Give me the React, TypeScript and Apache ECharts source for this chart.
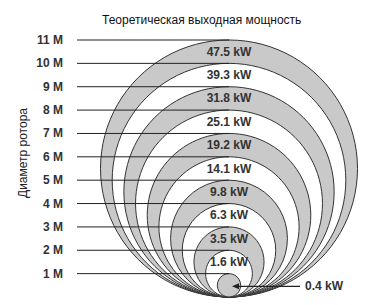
import React, { useEffect, useRef } from 'react';
import * as echarts from 'echarts';

const diameters = [11, 10, 9, 8, 7, 6, 5, 4, 3, 2, 1];
const powers = [47.5, 39.3, 31.8, 25.1, 19.2, 14.1, 9.8, 6.3, 3.5, 1.6, 0.4];
const titleText = 'Теоретическая выходная мощность';
const yAxisTitle = 'Диаметр ротора';

const FONT = '"Liberation Sans", Arial, sans-serif';
const GRAY = '#c9c9c9';
const X_MIN = -152;

export default function App() {
  const ref = useRef<HTMLDivElement>(null);
  useEffect(() => {
    document.body.style.margin = '0';
    const chart = echarts.init(ref.current!, null, { renderer: 'svg' });
    const data = diameters.map((d, i) => [d, powers[i]]);
    chart.setOption({
      animation: false,
      backgroundColor: '#fff',
      title: {
        text: titleText,
        left: 97,
        top: 9,
        textStyle: { fontFamily: FONT, fontSize: 12, fontWeight: 'normal', color: '#111' },
      },
      graphic: [
        {
          type: 'text',
          x: 23,
          y: 153,
          rotation: Math.PI / 2,
          style: {
            text: yAxisTitle,
            align: 'center',
            verticalAlign: 'middle',
            font: `12px ${FONT}`,
            fill: '#222',
          },
        },
      ],
      grid: { left: 77, right: 0, top: 40, bottom: 8 },
      xAxis: {
        type: 'value',
        min: X_MIN,
        max: 150,
        show: false,
      },
      yAxis: {
        type: 'value',
        min: 0,
        max: 11,
        interval: 1,
        axisLine: { show: false },
        axisTick: { show: false },
        splitLine: { show: false },
        axisLabel: {
          margin: 14,
          fontFamily: FONT,
          fontSize: 12,
          fontWeight: 'bold',
          color: '#333',
          formatter: (v: number) => (v === 0 ? '' : `${v} M`),
        },
      },
      series: [
        {
          type: 'custom',
          data,
          encode: { x: 1, y: 0 },
          renderItem: (params: any, api: any) => {
            const d = api.value(0);
            const c = api.coord([0, d / 2]);
            const r = api.size([0, d / 2])[1];
            return {
              type: 'circle',
              shape: { cx: c[0], cy: c[1], r },
              style: { fill: d % 2 === 1 ? GRAY : '#ffffff', stroke: '#333', lineWidth: 1 },
            };
          },
          z: 1,
        },
        {
          type: 'custom',
          data,
          encode: { x: 1, y: 0 },
          renderItem: (params: any, api: any) => {
            const d = api.value(0);
            const a = api.coord([X_MIN, d]);
            const b = api.coord([0, d]);
            return {
              type: 'line',
              shape: { x1: a[0], y1: a[1], x2: b[0], y2: b[1] },
              style: { stroke: '#222', lineWidth: 1 },
            };
          },
          z: 2,
        },
        {
          type: 'custom',
          data,
          encode: { x: 1, y: 0 },
          renderItem: (params: any, api: any) => {
            const d = api.value(0);
            const p = api.value(1);
            const label = `${p} kW`;
            if (d > 1) {
              const c = api.coord([0, d - 0.5]);
              return {
                type: 'text',
                x: c[0],
                y: c[1],
                style: {
                  text: label,
                  align: 'center',
                  verticalAlign: 'middle',
                  font: `bold 12px ${FONT}`,
                  fill: '#333',
                },
              };
            }
            const c = api.coord([0, d / 2]);
            const tipX = c[0] + 3;
            const y = c[1] + 1;
            return {
              type: 'group',
              children: [
                {
                  type: 'line',
                  shape: { x1: tipX + 4, y1: y, x2: c[0] + 71, y2: y },
                  style: { stroke: '#222', lineWidth: 1.3 },
                },
                {
                  type: 'polygon',
                  shape: { points: [[tipX, y], [tipX + 7, y - 3], [tipX + 7, y + 3]] },
                  style: { fill: '#222' },
                },
                {
                  type: 'text',
                  x: c[0] + 76,
                  y,
                  style: {
                    text: label,
                    align: 'left',
                    verticalAlign: 'middle',
                    font: `bold 12px ${FONT}`,
                    fill: '#333',
                  },
                },
              ],
            };
          },
          z: 3,
        },
      ],
    });
    return () => chart.dispose();
  }, []);
  return <div ref={ref} style={{ width: 379, height: 305 }} />;
}
